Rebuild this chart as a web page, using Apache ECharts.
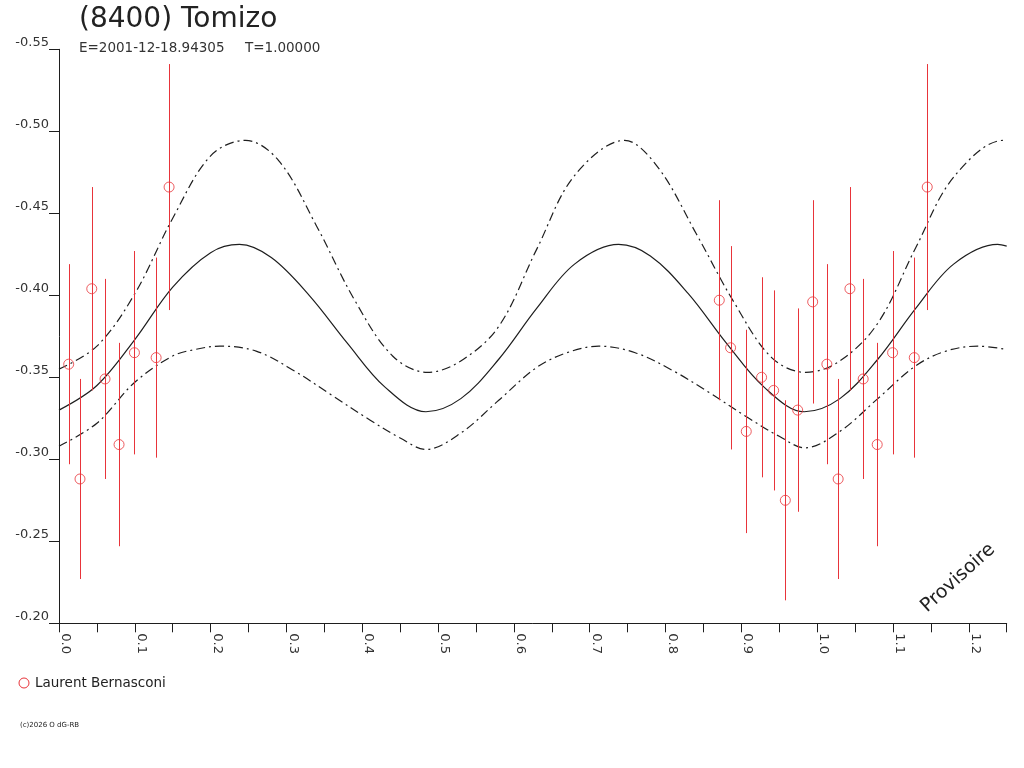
<!DOCTYPE html>
<html>
<head>
<meta charset="utf-8">
<script src="https://cdn.jsdelivr.net/npm/echarts@6/dist/echarts.min.js"></script>
<style>
html,body{margin:0;padding:0;background:#fff;}
#chart{width:1024px;height:768px;}
</style>
</head>
<body>
<div id="chart"></div>
<script>
// Observations (phase, reduced magnitude, error)
const obsPhase = [0.0128, 0.0277, 0.0432, 0.0607, 0.0792, 0.0995, 0.1281, 0.1452,
                  0.8709, 0.8858, 0.9065, 0.9267, 0.9426, 0.9580, 0.9743, 0.9941];
const obsMag   = [-0.358, -0.288, -0.404, -0.349, -0.309, -0.365, -0.362, -0.466,
                  -0.397, -0.368, -0.317, -0.350, -0.342, -0.275, -0.330, -0.396];
const obsErr   = [0.061, 0.061, 0.062, 0.061, 0.062, 0.062, 0.061, 0.075,
                  0.061, 0.062, 0.062, 0.061, 0.061, 0.061, 0.062, 0.062];

// Fitted curve (solid), read along phase
const midPhase = [0.000, 0.050, 0.100, 0.150, 0.200, 0.238, 0.280, 0.330, 0.380, 0.430, 0.484,
                  0.530, 0.580, 0.630, 0.680, 0.738, 0.780, 0.830, 0.880, 0.930, 0.983,
                  1.030, 1.080, 1.130, 1.180, 1.238, 1.250];
const midMag   = [-0.330, -0.345, -0.373, -0.405, -0.426, -0.431, -0.423, -0.400, -0.371, -0.344, -0.329,
                  -0.337, -0.361, -0.392, -0.419, -0.431, -0.424, -0.401, -0.371, -0.344, -0.329,
                  -0.337, -0.361, -0.392, -0.419, -0.431, -0.430];

// Upper envelope (dash-dot)
const upPhase = [0.000, 0.050, 0.100, 0.150, 0.200, 0.246, 0.290, 0.340, 0.390, 0.440, 0.486,
                 0.530, 0.580, 0.630, 0.680, 0.746, 0.790, 0.840, 0.890, 0.940, 0.985,
                 1.030, 1.080, 1.130, 1.180, 1.246, 1.250];
const upMag   = [-0.355, -0.369, -0.401, -0.447, -0.485, -0.4945, -0.482, -0.442, -0.397, -0.363, -0.353,
                 -0.360, -0.381, -0.428, -0.473, -0.4945, -0.478, -0.438, -0.396, -0.362, -0.353,
                 -0.360, -0.383, -0.429, -0.472, -0.4945, -0.4945];

// Lower envelope (dash-dot)
const lowPhase = [0.000, 0.050, 0.100, 0.150, 0.180, 0.212, 0.260, 0.310, 0.360, 0.410, 0.450, 0.484,
                  0.530, 0.580, 0.630, 0.670, 0.712, 0.760, 0.810, 0.860, 0.910, 0.950, 0.984,
                  1.030, 1.080, 1.130, 1.170, 1.212, 1.250];
const lowMag   = [-0.308, -0.322, -0.347, -0.363, -0.367, -0.369, -0.366, -0.354, -0.339, -0.324, -0.313, -0.306,
                  -0.316, -0.336, -0.356, -0.365, -0.369, -0.365, -0.354, -0.340, -0.325, -0.314, -0.307,
                  -0.317, -0.337, -0.357, -0.366, -0.369, -0.367];

const titleText = '(8400) Tomizo';
const epochText = 'E=2001-12-18.94305';
const periodText = 'T=1.00000';
const observer = 'Laurent Bernasconi';
const copyright = '(c)2026 O dG-RB';
const stamp = 'Provisoire';

const RED = '#e8343a';
const INK = '#1e1e1e';
const XMAX = 1.25;

// phase-folded points (repeat beyond phase 1)
const scatterData = [], barData = [];
obsPhase.forEach((p, i) => {
  [p, p + 1].forEach(x => {
    if (x >= 0 && x <= XMAX) {
      scatterData.push([x, obsMag[i]]);
      barData.push([x, obsMag[i] - obsErr[i], obsMag[i] + obsErr[i]]);
    }
  });
});
const zip = (xs, ys) => xs.map((x, i) => [x, ys[i]]);

const chart = echarts.init(document.getElementById('chart'), null, {renderer: 'canvas'});
const FONT = 'DejaVu Sans';
const DASHDOT = [9, 4, 2, 4];

chart.setOption({
  animation: false,
  backgroundColor: '#fff',
  textStyle: {fontFamily: FONT},
  title: {
    text: titleText, left: 74, top: 1,
    textStyle: {fontFamily: FONT, fontSize: 28, fontWeight: 'normal', color: '#222'}
  },
  grid: {left: 59, top: 49.3, right: 17.3, bottom: 144.7, containLabel: false},
  xAxis: {
    type: 'value', min: 0, max: XMAX, interval: 0.05,
    axisLine: {show: true, onZero: false, lineStyle: {color: INK, width: 1}},
    axisTick: {show: true, length: 9, lineStyle: {color: INK}},
    splitLine: {show: false},
    axisLabel: {
      rotate: -90, margin: 10, fontSize: 13, color: '#333', fontFamily: FONT,
      verticalAlign: 'bottom', showMinLabel: true, showMaxLabel: true,
      formatter: v => { const k = Math.round(v * 20); return k % 2 === 0 ? (k / 20).toFixed(1) : ''; }
    }
  },
  yAxis: {
    type: 'value', min: -0.55, max: -0.20, interval: 0.05, inverse: true,
    axisLine: {show: true, onZero: false, lineStyle: {color: INK, width: 1}},
    axisTick: {show: true, length: 10, lineStyle: {color: INK}},
    splitLine: {show: false},
    axisLabel: {
      margin: 10, fontSize: 13, color: '#333', fontFamily: FONT, verticalAlign: 'bottom',
      formatter: v => v.toFixed(2)
    }
  },
  graphic: [
    {type: 'text', style: {x: 79, y: 48.5, text: epochText, fill: '#333', font: '13.5px "DejaVu Sans"', verticalAlign: 'middle'}},
    {type: 'text', style: {x: 245, y: 48.5, text: periodText, fill: '#333', font: '13.5px "DejaVu Sans"', verticalAlign: 'middle'}},
    {type: 'circle', shape: {cx: 24, cy: 683, r: 5}, style: {fill: 'none', stroke: RED, lineWidth: 1}},
    {type: 'text', style: {x: 35, y: 683, text: observer, fill: '#222', font: '13.5px "DejaVu Sans"', verticalAlign: 'middle'}},
    {type: 'text', style: {x: 20, y: 725, text: copyright, fill: '#222', font: '7px "DejaVu Sans"', verticalAlign: 'middle'}},
    {type: 'text', x: 958, y: 578, rotation: 42 * Math.PI / 180,
     style: {x: 0, y: 0, text: stamp, fill: '#222', font: '19px "DejaVu Sans"', align: 'center', verticalAlign: 'middle'}}
  ],
  series: [
    {
      type: 'line', name: 'fit', data: zip(midPhase, midMag), smooth: 0.35, showSymbol: false,
      lineStyle: {color: INK, width: 1.2}, silent: true, z: 2
    },
    {
      type: 'line', name: 'upper', data: zip(upPhase, upMag), smooth: 0.35, showSymbol: false,
      lineStyle: {color: INK, width: 1.2, type: DASHDOT}, silent: true, z: 2
    },
    {
      type: 'line', name: 'lower', data: zip(lowPhase, lowMag), smooth: 0.35, showSymbol: false,
      lineStyle: {color: INK, width: 1.2, type: DASHDOT}, silent: true, z: 2
    },
    {
      type: 'custom', name: 'errbars', data: barData, encode: {x: 0, y: [1, 2]}, z: 3,
      renderItem: (params, api) => {
        const a = api.coord([api.value(0), api.value(1)]);
        const b = api.coord([api.value(0), api.value(2)]);
        const x = Math.round(a[0]) + 0.5;
        return {type: 'line', shape: {x1: x, y1: a[1], x2: x, y2: b[1]}, style: {stroke: RED, lineWidth: 1}};
      }
    },
    {
      type: 'scatter', name: observer, data: scatterData, symbol: 'circle', symbolSize: 10, z: 4,
      itemStyle: {color: 'rgba(0,0,0,0)', borderColor: RED, borderWidth: 1}
    }
  ]
});
</script>
</body>
</html>
